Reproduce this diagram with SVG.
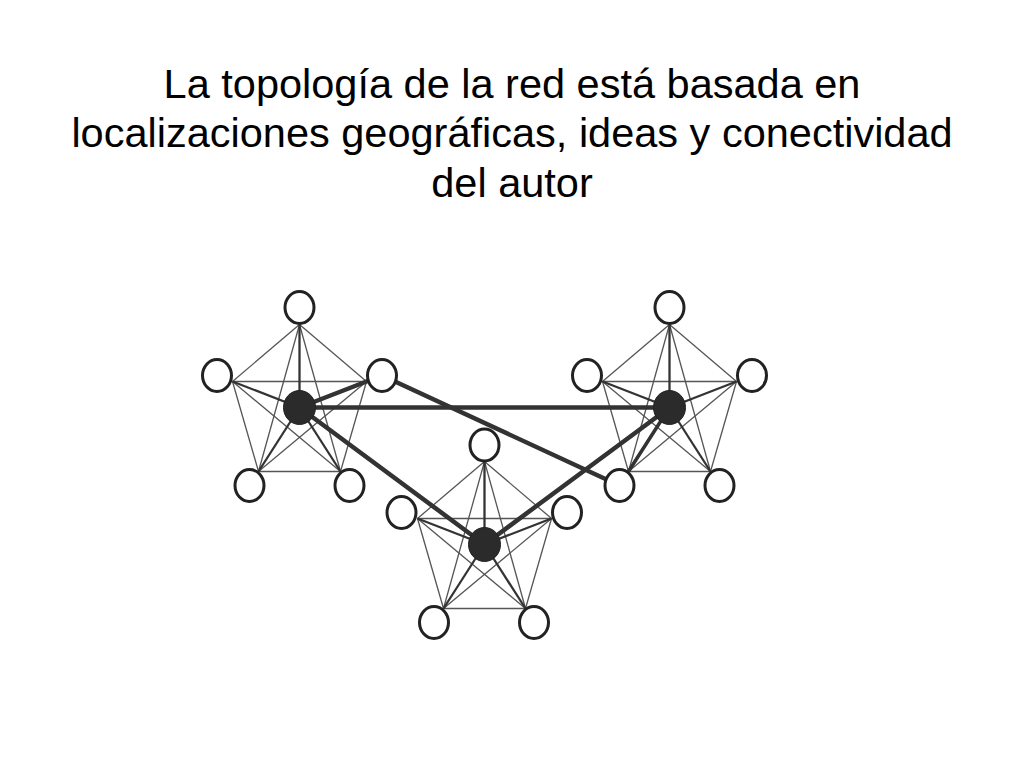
<svg xmlns="http://www.w3.org/2000/svg" width="1024" height="768" viewBox="0 0 1024 768">
<defs>
<style>
.title{font-family:"Liberation Sans",Arial,sans-serif;font-size:41.5px;fill:#000;text-anchor:middle}
.thin{stroke:#555;stroke-width:1.3;fill:none}
.spoke{stroke:#333;stroke-width:2.3;fill:none}
.thick{stroke:#333;stroke-width:4.5;fill:none;stroke-linecap:round}
.leaf{fill:#fff;stroke:#222;stroke-width:3}
.hub{fill:#2b2b2b;stroke:#222;stroke-width:1}
</style>
<g id="mesh">
<line class="thin" x1="0" y1="-83" x2="-67" y2="-26"/>
<line class="thin" x1="0" y1="-83" x2="67" y2="-26"/>
<line class="thin" x1="0" y1="-83" x2="-41" y2="64"/>
<line class="thin" x1="0" y1="-83" x2="41" y2="64"/>
<line class="thin" x1="-67" y1="-26" x2="67" y2="-26"/>
<line class="thin" x1="-67" y1="-26" x2="-41" y2="64"/>
<line class="thin" x1="-67" y1="-26" x2="41" y2="64"/>
<line class="thin" x1="67" y1="-26" x2="-41" y2="64"/>
<line class="thin" x1="67" y1="-26" x2="41" y2="64"/>
<line class="thin" x1="-41" y1="64" x2="41" y2="64"/>
<line class="spoke" x1="0" y1="0" x2="0" y2="-83"/>
<line class="spoke" x1="0" y1="0" x2="-67" y2="-26"/>
<line class="spoke" x1="0" y1="0" x2="67" y2="-26"/>
<line class="spoke" x1="0" y1="0" x2="-41" y2="64"/>
<line class="spoke" x1="0" y1="0" x2="41" y2="64"/>
</g>
</defs>
<rect width="1024" height="768" fill="#fff"/>
<g id="title">
<text class="title" x="512" y="98">La topología de la red está basada en</text>
<text class="title" x="512" y="147">localizaciones geográficas, ideas y conectividad</text>
<text class="title" x="512" y="197">del autor</text>
</g>
<g id="connectors">
<use href="#mesh" transform="translate(299.5,407.5)"/>
<use href="#mesh" transform="translate(669.5,407.5)"/>
<use href="#mesh" transform="translate(484.5,544.5)"/>
<line class="thick" x1="299.5" y1="407.5" x2="669.5" y2="407.5"/>
<line class="thick" x1="299.5" y1="407.5" x2="484.5" y2="544.5"/>
<line class="thick" x1="669.5" y1="407.5" x2="484.5" y2="544.5"/>
<line class="thick" x1="382" y1="375.5" x2="619.5" y2="485.5"/>
<line class="thick" x1="299.5" y1="407.5" x2="382" y2="375.5"/>
<line class="thick" style="stroke-width:3.5" x1="669.5" y1="407.5" x2="619.5" y2="485.5"/>
</g>
<g id="cluster-1">
<g id="c1-top"><ellipse class="leaf" cx="299.5" cy="307.5" rx="14.5" ry="16"/></g>
<g id="c1-left"><ellipse class="leaf" cx="217" cy="375.5" rx="14.5" ry="16"/></g>
<g id="c1-right"><ellipse class="leaf" cx="382" cy="375.5" rx="14.5" ry="16"/></g>
<g id="c1-bottom-left"><ellipse class="leaf" cx="249.5" cy="485.5" rx="14.5" ry="16"/></g>
<g id="c1-bottom-right"><ellipse class="leaf" cx="349.5" cy="485.5" rx="14.5" ry="16"/></g>
<g id="c1-hub"><ellipse class="hub" cx="299.5" cy="407.5" rx="16" ry="17"/></g>
</g>
<g id="cluster-2">
<g id="c2-top"><ellipse class="leaf" cx="669.5" cy="307.5" rx="14.5" ry="16"/></g>
<g id="c2-left"><ellipse class="leaf" cx="587" cy="375.5" rx="14.5" ry="16"/></g>
<g id="c2-right"><ellipse class="leaf" cx="752" cy="375.5" rx="14.5" ry="16"/></g>
<g id="c2-bottom-left"><ellipse class="leaf" cx="619.5" cy="485.5" rx="14.5" ry="16"/></g>
<g id="c2-bottom-right"><ellipse class="leaf" cx="719.5" cy="485.5" rx="14.5" ry="16"/></g>
<g id="c2-hub"><ellipse class="hub" cx="669.5" cy="407.5" rx="16" ry="17"/></g>
</g>
<g id="cluster-3">
<g id="c3-top"><ellipse class="leaf" cx="484.5" cy="445" rx="14.5" ry="16"/></g>
<g id="c3-left"><ellipse class="leaf" cx="401.5" cy="512.5" rx="14.5" ry="16"/></g>
<g id="c3-right"><ellipse class="leaf" cx="567" cy="512.5" rx="14.5" ry="16"/></g>
<g id="c3-bottom-left"><ellipse class="leaf" cx="434" cy="622.5" rx="14.5" ry="16"/></g>
<g id="c3-bottom-right"><ellipse class="leaf" cx="534" cy="622.5" rx="14.5" ry="16"/></g>
<g id="c3-hub"><ellipse class="hub" cx="484.5" cy="544.5" rx="16" ry="17"/></g>
</g>
</svg>
